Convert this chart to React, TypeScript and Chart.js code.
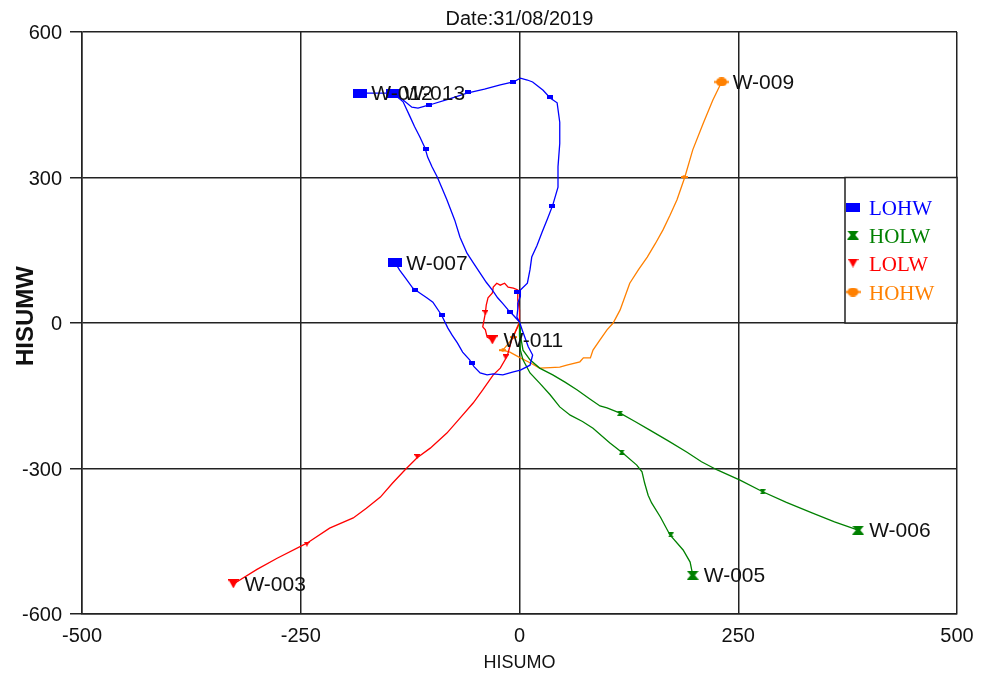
import React, { useEffect, useRef } from "react";
import { Chart, registerables } from "chart.js";
Chart.register(...registerables);

// ---------- data ----------
const TITLE = "Date:31/08/2019";
const X_TITLE = "HISUMO";
const Y_TITLE = "HISUMW";
const X_TICKS = [-500, -250, 0, 250, 500];
const Y_TICKS = [600, 300, 0, -300, -600];

const GROUPS = ["LOHW", "HOLW", "LOLW", "HOHW"];
const GROUP_COLORS = ["#0000ff", "#008000", "#ff0000", "#ff8000"];

type P = [number, number];

const W012: P[] = [[0, 2], [-3, 12], [-2, 28], [-2, 41], [1, 55], [1, 68], [9, 82], [12, 110], [14, 136], [20, 160], [26, 188], [32, 215], [38, 243], [44, 280], [44, 322], [46, 370], [46, 414], [43, 454], [35, 464], [27, 480], [15, 497], [9, 501], [1, 505], [-7, 497], [-22, 491], [-40, 482], [-60, 474], [-80, 462], [-102, 450], [-116, 443], [-123, 445], [-133, 460], [-145, 474], [-182, 474]];
const W013: P[] = [[0, 2], [-7, 16], [-13, 27], [-19, 40], [-25, 52], [-31, 68], [-38, 84], [-45, 103], [-52, 122], [-60, 144], [-68, 177], [-74, 212], [-83, 254], [-89, 280], [-94, 301], [-100, 322], [-105, 342], [-108, 361], [-114, 384], [-120, 405], [-125, 425], [-133, 456], [-145, 474]];
const W007: P[] = [[0, 2], [3, -14], [6, -29], [10, -49], [15, -66], [12, -87], [1, -97], [-7, -101], [-19, -107], [-30, -105], [-37, -107], [-45, -103], [-52, -90], [-57, -76], [-65, -60], [-71, -41], [-77, -25], [-82, -10], [-89, 16], [-99, 43], [-106, 52], [-114, 62], [-122, 72], [-130, 92], [-137, 109], [-142, 124]];
const W005: P[] = [[0, 2], [0, -12], [0, -25], [1, -56], [4, -76], [12, -103], [23, -124], [35, -148], [46, -173], [58, -190], [72, -203], [84, -217], [103, -247], [118, -268], [134, -293], [140, -307], [143, -330], [147, -355], [151, -371], [161, -400], [172, -437], [187, -468], [195, -493], [198, -520]];
const W006: P[] = [[0, 2], [1, -12], [1, -25], [4, -56], [12, -76], [23, -93], [38, -107], [52, -122], [66, -138], [80, -156], [92, -171], [100, -175], [115, -186], [132, -203], [149, -221], [170, -243], [191, -266], [208, -286], [226, -303], [252, -324], [278, -348], [305, -370], [335, -392], [360, -410], [387, -427]];
const W003: P[] = [[0, 2], [-2, -8], [-5, -19], [-9, -35], [-14, -68], [-22, -93], [-30, -107], [-42, -138], [-53, -165], [-68, -196], [-83, -227], [-102, -258], [-117, -278], [-131, -303], [-145, -330], [-159, -359], [-175, -382], [-190, -402], [-217, -423], [-243, -454], [-277, -485], [-300, -508], [-327, -538]];
const W011: P[] = [[0, 2], [0, 14], [0, 27], [-2, 47], [-2, 68], [-7, 72], [-13, 74], [-17, 82], [-22, 78], [-26, 82], [-30, 74], [-31, 62], [-36, 52], [-38, 37], [-39, 21], [-42, -8], [-39, -14], [-37, -29], [-31, -35]];
const W009: P[] = [[0, 2], [-3, -10], [-7, -29], [-14, -45], [-19, -56], [-11, -60], [1, -72], [12, -82], [23, -93], [35, -92], [46, -91], [54, -87], [69, -80], [73, -72], [81, -72], [84, -56], [92, -35], [100, -14], [107, 0], [115, 27], [126, 82], [136, 110], [146, 136], [155, 163], [164, 192], [172, 222], [180, 254], [189, 301], [198, 357], [210, 412], [221, 460], [231, 497]];

// periodic survey marks along each trajectory
const W012_MARKS: P[] = [[-59, 476], [-7, 497], [35, 466], [37, 241], [-104, 450]];
const W013_MARKS: P[] = [[-107, 359], [-3, 64], [-11, 23]];
const W007_MARKS: P[] = [[-119, 68], [-89, 16], [-54, -82]];
const W005_MARKS: P[] = [[117, -266], [173, -437]];
const W006_MARKS: P[] = [[115, -186], [278, -348]];
const W003_MARKS: P[] = [[-117, -276], [-243, -456], [-16, -70]];
const W011_MARKS: P[] = [[-39, 21]];
const W009_MARKS: P[] = [[188, 301], [-7, -29], [-19, -56]];

const WELL_NAMES = ["W-012", "W-013", "W-007", "W-005", "W-006", "W-003", "W-011", "W-009"];
const WELL_GROUP = [0, 0, 0, 1, 1, 2, 2, 3];
const WELL_PATHS = [W012, W013, W007, W005, W006, W003, W011, W009];
const WELL_MARKS = [W012_MARKS, W013_MARKS, W007_MARKS, W005_MARKS, W006_MARKS, W003_MARKS, W011_MARKS, W009_MARKS];

// ---------- marker shapes ----------
function shapeCanvas(shape: number, w: number, h: number, color: string): HTMLCanvasElement {
  const c = document.createElement("canvas");
  c.width = w;
  c.height = h;
  const g = c.getContext("2d")!;
  g.fillStyle = color;
  g.beginPath();
  if (shape === 0) {
    g.fillRect(0, 0, w, h);
  } else if (shape === 1) {
    g.moveTo(0, 0);
    g.lineTo(w, 0);
    g.lineTo(w * 0.68, h / 2);
    g.lineTo(w, h);
    g.lineTo(0, h);
    g.lineTo(w * 0.32, h / 2);
    g.closePath();
    g.fill();
  } else if (shape === 2) {
    g.fillRect(0, 0, w, Math.max(1, h * 0.15));
    g.moveTo(w * 0.05, 0);
    g.lineTo(w * 0.95, 0);
    g.lineTo(w / 2, h);
    g.closePath();
    g.fill();
  } else {
    g.ellipse(w / 2, h / 2, w / 2 - 2, h / 2, 0, 0, Math.PI * 2);
    g.fill();
    g.fillRect(0, h / 2 - 1, w, 2);
  }
  return c;
}

const BIG_SIZES: P[] = [[14, 9], [12, 9], [11, 9], [15, 9]];
const SMALL_SIZES: P[] = [[6, 4], [6, 5], [6, 5], [7, 4]];

const FONT = "'Liberation Sans', Arial, sans-serif";
const SERIF = "'Liberation Serif', 'Times New Roman', serif";

export default function App() {
  const ref = useRef<HTMLCanvasElement>(null);

  useEffect(() => {
    const big = GROUP_COLORS.map((c, i) => shapeCanvas(i, BIG_SIZES[i][0], BIG_SIZES[i][1], c));
    const small = GROUP_COLORS.map((c, i) => shapeCanvas(i, SMALL_SIZES[i][0], SMALL_SIZES[i][1], c));

    const datasets: any[] = [];
    WELL_PATHS.forEach((path, i) => {
      const g = WELL_GROUP[i];
      const last = path.length - 1;
      datasets.push({
        label: WELL_NAMES[i],
        isPath: true,
        data: path.map(([x, y]) => ({ x, y })),
        showLine: true,
        borderColor: GROUP_COLORS[g],
        backgroundColor: GROUP_COLORS[g],
        borderWidth: 1.3,
        pointRadius: (ctx: any) => (ctx.dataIndex === last ? 6 : 0),
        pointHoverRadius: 0,
        pointStyle: big[g],
      });
      datasets.push({
        label: WELL_NAMES[i] + " marks",
        data: WELL_MARKS[i].map(([x, y]) => ({ x, y })),
        showLine: false,
        backgroundColor: GROUP_COLORS[g],
        borderColor: GROUP_COLORS[g],
        pointRadius: 3,
        pointHoverRadius: 0,
        pointStyle: small[g],
      });
    });

    const textPlugin = {
      id: "textPlugin",
      afterDatasetsDraw(chart: any) {
        const ctx = chart.ctx;
        ctx.save();
        ctx.fillStyle = "#111";
        ctx.font = `21px ${FONT}`;
        ctx.textAlign = "left";
        ctx.textBaseline = "alphabetic";
        chart.data.datasets.forEach((ds: any, di: number) => {
          if (!ds.isPath) return;
          const meta = chart.getDatasetMeta(di);
          const el = meta.data[meta.data.length - 1];
          const name = WELL_NAMES[WELL_PATHS.findIndex((_, k) => WELL_NAMES[k] === ds.label)];
          ctx.fillText(name, el.x + 11, el.y + 7);
        });
        ctx.restore();
      },
      afterDraw(chart: any) {
        const ctx = chart.ctx;
        const xs = chart.scales.x;
        const ys = chart.scales.y;
        const area = chart.chartArea;
        ctx.save();
        // title
        ctx.fillStyle = "#111";
        ctx.font = `20px ${FONT}`;
        ctx.textAlign = "center";
        ctx.textBaseline = "alphabetic";
        ctx.fillText(TITLE, (area.left + area.right) / 2, 25);
        // x tick labels
        X_TICKS.forEach((v) => {
          ctx.fillText(String(v), xs.getPixelForValue(v), 642);
        });
        // y tick labels
        ctx.textAlign = "right";
        Y_TICKS.forEach((v) => {
          ctx.fillText(String(v), 62, ys.getPixelForValue(v) + 7);
        });
        // x title
        ctx.textAlign = "center";
        ctx.font = `18px ${FONT}`;
        ctx.fillText(X_TITLE, (area.left + area.right) / 2, 668);
        // y title
        ctx.save();
        ctx.translate(33, 316);
        ctx.rotate(-Math.PI / 2);
        ctx.font = `bold 24px ${FONT}`;
        ctx.fillText(Y_TITLE, 0, 0);
        ctx.restore();

        // legend box
        const lx = 845;
        const ly = ys.getPixelForValue(300);
        const lb = ys.getPixelForValue(0);
        const lr = area.right;
        ctx.fillStyle = "#ffffff";
        ctx.fillRect(lx, ly, lr - lx, lb - ly);
        ctx.strokeStyle = "#222";
        ctx.lineWidth = 1.5;
        ctx.strokeRect(lx, ly, lr - lx, lb - ly);
        const rows = [207, 235, 263, 292];
        ctx.font = `21px ${SERIF}`;
        ctx.textAlign = "left";
        GROUPS.forEach((gname, i) => {
          const img = big[i];
          ctx.drawImage(img, 853 - img.width / 2, rows[i] - img.height / 2);
          ctx.fillStyle = GROUP_COLORS[i];
          ctx.fillText(gname, 869, rows[i] + 8);
        });
        ctx.restore();
      },
    };

    const chart = new Chart(ref.current!, {
      type: "scatter",
      data: { datasets },
      options: {
        animation: false,
        responsive: false,
        devicePixelRatio: 1,
        layout: { padding: { top: 32, right: 27, bottom: 0, left: 0 } },
        plugins: {
          legend: { display: false },
          title: { display: false },
          tooltip: { enabled: false },
        },
        events: [],
        scales: {
          x: {
            type: "linear",
            min: -500,
            max: 500,
            ticks: { display: false, stepSize: 250 },
            grid: { color: "#222", lineWidth: 1.5, drawTicks: false },
            border: { color: "#222", width: 1.5 },
            afterFit: (s: any) => {
              s.height = 62;
            },
          },
          y: {
            type: "linear",
            min: -600,
            max: 600,
            ticks: { display: false, stepSize: 300 },
            grid: { color: "#222", lineWidth: 1.5, drawTicks: true, tickLength: 12 },
            border: { color: "#222", width: 1.5 },
            afterFit: (s: any) => {
              s.width = 82;
            },
          },
        },
      } as any,
      plugins: [textPlugin],
    });
    return () => chart.destroy();
  }, []);

  return (
    <div style={{ position: "absolute", left: 0, top: 0, width: 984, height: 676, background: "#ffffff" }}>
      <canvas ref={ref} width={984} height={676} style={{ display: "block", width: 984, height: 676 }} />
    </div>
  );
}
